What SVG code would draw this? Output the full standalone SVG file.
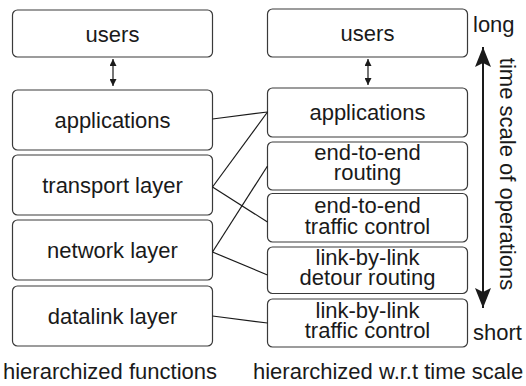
<svg xmlns="http://www.w3.org/2000/svg" width="526" height="386" viewBox="0 0 526 386">
<style>
.box{fill:#fff;stroke:#3a3a3a;stroke-width:1.2}
.t{font-family:"Liberation Sans",Arial,sans-serif;font-size:22px;fill:#1a1a1a;text-anchor:middle}
.l{font-family:"Liberation Sans",Arial,sans-serif;font-size:22px;fill:#1a1a1a}
.c{stroke:#1a1a1a;stroke-width:1.2;fill:none}
</style>
<defs>
<marker id="sa" viewBox="0 0 10 10" refX="10" refY="5" markerWidth="7" markerHeight="7" markerUnits="userSpaceOnUse" orient="auto-start-reverse">
<path d="M0,0 L10,5 L0,10 Z" fill="#1a1a1a"/>
</marker>
<marker id="la" viewBox="0 0 20 16" refX="20" refY="8" markerWidth="20" markerHeight="16" markerUnits="userSpaceOnUse" orient="auto-start-reverse">
<path d="M0,0 L20,8 L0,16 L4,8 Z" fill="#1a1a1a"/>
</marker>
</defs>
<g id="l-users"><rect class="box" x="12.5" y="10" width="200" height="47" rx="5"/><text class="t" x="112.5" y="41.5">users</text></g>
<g id="l-applications"><rect class="box" x="12.5" y="90" width="200" height="60" rx="5"/><text class="t" x="112.5" y="128">applications</text></g>
<g id="l-transport"><rect class="box" x="12.5" y="155" width="200" height="60" rx="5"/><text class="t" x="112.5" y="193">transport layer</text></g>
<g id="l-network"><rect class="box" x="12.5" y="220" width="200" height="60" rx="5"/><text class="t" x="112.5" y="258">network layer</text></g>
<g id="l-datalink"><rect class="box" x="12.5" y="286" width="200" height="60" rx="5"/><text class="t" x="112.5" y="324">datalink layer</text></g>
<g id="r-users"><rect class="box" x="267.5" y="9" width="200" height="48" rx="5"/><text class="t" x="367.5" y="41">users</text></g>
<g id="r-applications"><rect class="box" x="267.5" y="88" width="200" height="49" rx="5"/><text class="t" x="367.5" y="120">applications</text></g>
<g id="r-e2e-routing"><rect class="box" x="267.5" y="142" width="200" height="48" rx="5"/><text class="t" x="367.5" y="160">end-to-end</text><text class="t" x="367.5" y="180">routing</text></g>
<g id="r-e2e-traffic"><rect class="box" x="267.5" y="193.5" width="200" height="48.5" rx="5"/><text class="t" x="367.5" y="213">end-to-end</text><text class="t" x="367.5" y="234">traffic control</text></g>
<g id="r-detour"><rect class="box" x="267.5" y="247" width="200" height="46.5" rx="5"/><text class="t" x="367.5" y="265">link-by-link</text><text class="t" x="367.5" y="285">detour routing</text></g>
<g id="r-ll-traffic"><rect class="box" x="267.5" y="299" width="200" height="48" rx="5"/><text class="t" x="367.5" y="318">link-by-link</text><text class="t" x="367.5" y="338">traffic control</text></g>
<g id="connectors">
<line class="c" x1="113" y1="59" x2="113" y2="86" marker-start="url(#sa)" marker-end="url(#sa)"/>
<line class="c" x1="368" y1="59" x2="368" y2="85" marker-start="url(#sa)" marker-end="url(#sa)"/>
<line class="c" x1="212.5" y1="119" x2="267.5" y2="112"/>
<line class="c" x1="212.5" y1="187" x2="267.5" y2="112"/>
<line class="c" x1="212.5" y1="187" x2="267.5" y2="222"/>
<line class="c" x1="212.5" y1="252" x2="267.5" y2="166"/>
<line class="c" x1="212.5" y1="252" x2="267.5" y2="275"/>
<line class="c" x1="212.5" y1="316" x2="267.5" y2="323"/>
<line x1="483" y1="47" x2="483" y2="308" stroke="#1a1a1a" stroke-width="2" marker-start="url(#la)" marker-end="url(#la)"/>
</g>
<text class="l" x="473" y="32">long</text>
<text class="l" x="473" y="340">short</text>
<text class="t" transform="translate(500,174) rotate(90)">time scale of operations</text>
<text class="l" x="3" y="379">hierarchized functions</text>
<text class="l" x="253" y="379">hierarchized w.r.t time scale</text>
</svg>
